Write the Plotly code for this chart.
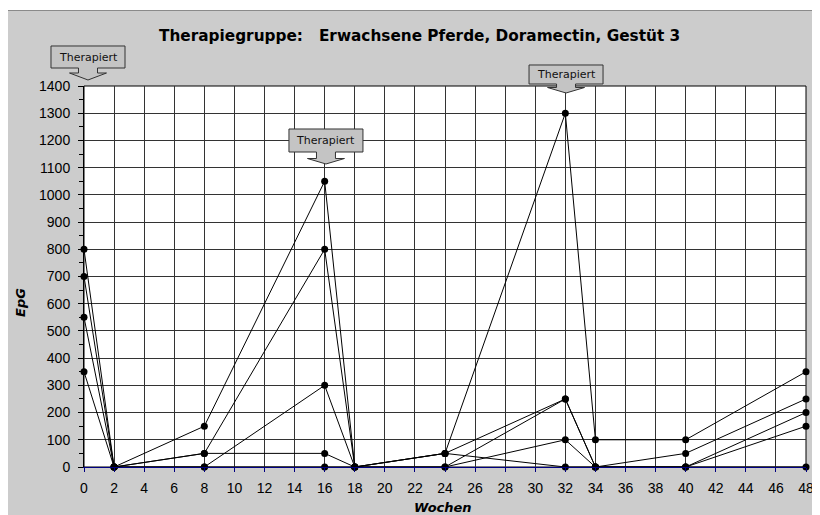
import plotly.graph_objects as go

# ---------------- data ----------------
wochen = [0, 2, 8, 16, 18, 24, 32, 34, 40, 48]
pferd_1 = [800, 0, 150, 1050, 0, 50, 1300, 100, 100, 350]
pferd_2 = [700, 0, 50, 800, 0, 50, 250, 0, 50, 250]
pferd_3 = [550, 0, 50, 50, 0, 50, 0, 0, 0, 200]
pferd_4 = [350, 0, 0, 300, 0, 0, 250, 0, 0, 150]
pferd_5 = [None, 0, 0, 0, 0, 0, 100, 0, 0, 0]
therapie_wochen = [0, 16, 32]
therapie_label = "Therapiert"
x_ticks = list(range(0, 49, 2))
y_ticks = list(range(0, 1401, 100))
title_text = "Therapiegruppe:   Erwachsene Pferde, Doramectin, Gestüt 3"
x_title = "Wochen"
y_title = "EpG"

# ---------------- geometry (screen pixels; page body has 8px margin) ----------------
W, H = 820, 515
OFF = 8
PL, PR, PT, PB = 84, 806, 86, 467          # plot area in screen pixels
L = PL - OFF
T = PT - OFF
R = W - (PR - OFF)
B = H - (PB - OFF)
PW = PR - PL
PH = PB - PT
XMIN, XMAX = 0, 48


def px(x):
    return (x - PL) / PW


def py(y):
    return (PB - y) / PH


def week_px(w):
    return PL + (w - XMIN) / (XMAX - XMIN) * PW


fig = go.Figure()
for vals in [pferd_1, pferd_2, pferd_3, pferd_4, pferd_5]:
    fig.add_trace(go.Scatter(
        x=wochen, y=vals, mode="lines+markers",
        line=dict(color="black", width=1),
        marker=dict(size=7, color="black"),
        cliponaxis=False, showlegend=False, connectgaps=False,
        hoverinfo="x+y",
    ))

shapes = []
# gray chart area
shapes.append(dict(type="rect", xref="paper", yref="paper", layer="below",
                   x0=px(7.5), x1=px(W + 20), y0=py(H + 20), y1=py(10.5),
                   fillcolor="#cccccc", line=dict(color="#8a8a8a", width=1)))
# white plot area
shapes.append(dict(type="rect", xref="paper", yref="paper", layer="below",
                   x0=0, x1=1, y0=0, y1=1,
                   fillcolor="white", line=dict(color="black", width=1)))

# callouts: (dx from week pixel, tip y, box top, box bottom, stem y)
callout_geo = [
    (4.0, 80, 46, 68, 73),
    (1.3, 164, 129, 152, 158.5),
    (0.7, 93, 65, 84, 87.5),
]
annotations = []
for w, (dx, tipy, top, bot, stemy) in zip(therapie_wochen, callout_geo):
    cx = week_px(w) + dx
    bw = 37
    sw = 9.5
    hw = 18.5
    pts = [(cx - bw, top), (cx + bw, top), (cx + bw, bot), (cx + sw, bot),
           (cx + sw, stemy), (cx + hw, stemy), (cx, tipy), (cx - hw, stemy),
           (cx - sw, stemy), (cx - sw, bot), (cx - bw, bot)]
    path = "M " + " L ".join(f"{px(a):.5f},{py(b):.5f}" for a, b in pts) + " Z"
    shapes.append(dict(type="path", xref="paper", yref="paper", layer="above",
                       path=path, fillcolor="#c4c4c4",
                       line=dict(color="#333333", width=1)))
    annotations.append(dict(text=therapie_label, xref="paper", yref="paper",
                            x=px(cx), y=py((top + bot) / 2), showarrow=False,
                            xanchor="center", yanchor="middle",
                            font=dict(family="DejaVu Sans", size=11, color="#111111")))

annotations.append(dict(text="<b>" + title_text + "</b>", xref="paper", yref="paper",
                        x=px(419), y=py(36), showarrow=False,
                        xanchor="center", yanchor="middle",
                        font=dict(family="DejaVu Sans", size=15.3, color="black")))
annotations.append(dict(text="<b><i>" + x_title + "</i></b>", xref="paper", yref="paper",
                        x=px(443), y=py(507), showarrow=False,
                        xanchor="center", yanchor="middle",
                        font=dict(family="DejaVu Sans", size=13, color="black")))
annotations.append(dict(text="<b><i>" + y_title + "</i></b>", xref="paper", yref="paper",
                        x=px(20), y=py(303), showarrow=False, textangle=-90,
                        xanchor="center", yanchor="middle",
                        font=dict(family="DejaVu Sans", size=13, color="black")))

grid_col = "#333333"
fig.update_layout(
    width=W, height=H,
    margin=dict(l=L, r=R, t=T, b=B, pad=0),
    paper_bgcolor="white", plot_bgcolor="rgba(0,0,0,0)",
    showlegend=False,
    shapes=shapes, annotations=annotations,
    xaxis=dict(range=[XMIN, XMAX], tickvals=x_ticks, ticktext=[str(v) for v in x_ticks],
               showgrid=True, gridcolor=grid_col, gridwidth=1,
               showline=True, linecolor="#000080", linewidth=1,
               ticks="outside", ticklen=4, tickcolor="#000080", tickwidth=1,
               ticklabelstandoff=4,
               tickfont=dict(family="Liberation Sans, Arial", size=14, color="black"),
               zeroline=False, fixedrange=True),
    yaxis=dict(range=[0, 1400], tickvals=y_ticks, ticktext=[str(v) for v in y_ticks],
               showgrid=True, gridcolor=grid_col, gridwidth=1,
               showline=True, linecolor="black", linewidth=1,
               ticks="outside", ticklen=5, tickcolor="black", tickwidth=1,
               ticklabelstandoff=5,
               minor=dict(dtick=50, tick0=0, ticks="outside", ticklen=4,
                          tickcolor="black", showgrid=False),
               tickfont=dict(family="Liberation Sans, Arial", size=14, color="black"),
               zeroline=False, fixedrange=True),
)

fig.write_html("out.html")
